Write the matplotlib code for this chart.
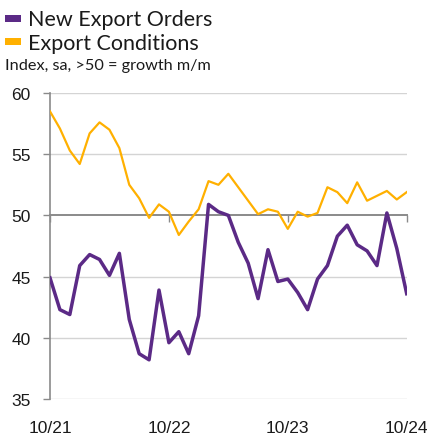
import matplotlib
matplotlib.use('Agg')
import matplotlib.pyplot as plt
from matplotlib.patches import Rectangle
import numpy as np

# monthly index values, 10/21 .. 10/24
months = np.arange(37)
new_export_orders = [
    44.9, 42.3, 41.9, 45.9, 46.8, 46.4, 45.1, 46.9, 41.5, 38.7,
    38.2, 43.9, 39.6, 40.5, 38.7, 41.8, 50.9, 50.3, 50.0, 47.8,
    46.1, 43.2, 47.2, 44.6, 44.8, 43.7, 42.3, 44.8, 45.9, 48.3,
    49.2, 47.6, 47.1, 45.9, 50.2, 47.3, 43.6,
]
export_conditions = [
    58.5, 57.1, 55.3, 54.2, 56.7, 57.6, 57.0, 55.5, 52.5, 51.4,
    49.8, 50.9, 50.3, 48.4, 49.5, 50.5, 52.8, 52.5, 53.4, 52.3,
    51.2, 50.1, 50.5, 50.3, 48.9, 50.3, 49.9, 50.2, 52.3, 51.9,
    51.0, 52.7, 51.2, 51.6, 52.0, 51.3, 51.9,
]
tick_pos = [0, 12, 24, 36]
tick_labels = ['10/21', '10/22', '10/23', '10/24']
y_ticks = [35, 40, 45, 50, 55, 60]

purple = '#5b2a86'
orange = '#ffb000'

W, H = 434, 439
fig = plt.figure(figsize=(W / 100, H / 100), dpi=100)
plt.rcParams['font.family'] = ['Liberation Sans', 'DejaVu Sans']

def fx(px):
    return px / W

def fy(py):
    return 1 - py / H

ax = fig.add_axes([fx(50), fy(400), fx(406.7) - fx(50), fy(94) - fy(400)])

ax.plot(months, export_conditions, color=orange, lw=1.6, zorder=3)
ax.plot(months, new_export_orders, color=purple, lw=2.5, zorder=4)

ax.set_xlim(0, 36)
ax.set_ylim(35, 60)
ax.set_yticks(y_ticks)
ax.set_yticklabels([str(v) for v in y_ticks], fontsize=12.5)
for v in y_ticks:
    if v != 50:
        ax.axhline(v, color='#d4d4d4', lw=1.0, zorder=1)

# x axis line at 50 with tick marks hanging down
ax.spines['bottom'].set_position(('data', 50))
ax.spines['bottom'].set_color('#8a8a8a')
ax.spines['bottom'].set_linewidth(1.4)
ax.spines['bottom'].set_zorder(2)
ax.set_xticks(tick_pos)
ax.tick_params(axis='x', direction='out', length=5, width=1.0, color='#8a8a8a',
               labelbottom=False)

ax.spines['left'].set_color('#8a8a8a')
ax.spines['left'].set_linewidth(1.2)
ax.spines['top'].set_visible(False)
ax.spines['right'].set_visible(False)
ax.tick_params(axis='y', direction='out', length=5, width=1.0, color='#8a8a8a',
               pad=9, labelcolor='#1a1a1a')

# date labels along the bottom
sec = ax.secondary_xaxis('bottom')
sec.set_xticks(tick_pos)
sec.set_xticklabels(tick_labels, fontsize=12.5, color='#1a1a1a')
sec.tick_params(length=0, pad=15)
sec.spines['bottom'].set_visible(False)

# legend block
lg_font = ['Lato', 'DejaVu Sans']
fig.add_artist(Rectangle((fx(5), fy(23)), fx(15.5) - fx(0), fy(0) - fy(6.7),
                         transform=fig.transFigure, color=purple, lw=0))
fig.add_artist(Rectangle((fx(5), fy(45.7)), fx(15.5) - fx(0), fy(0) - fy(6.7),
                         transform=fig.transFigure, color=orange, lw=0))
fig.text(fx(28), fy(20.5), 'New Export Orders', fontsize=15.5, family=lg_font,
         va='center', color='#1a1a1a')
fig.text(fx(28), fy(43.5), 'Export Conditions', fontsize=15.5, family=lg_font,
         va='center', color='#1a1a1a')
fig.text(fx(5), fy(66), 'Index, sa, >50 = growth m/m', fontsize=11.7, family=lg_font,
         va='center', color='#1a1a1a')

plt.savefig('out.png', dpi=100)
